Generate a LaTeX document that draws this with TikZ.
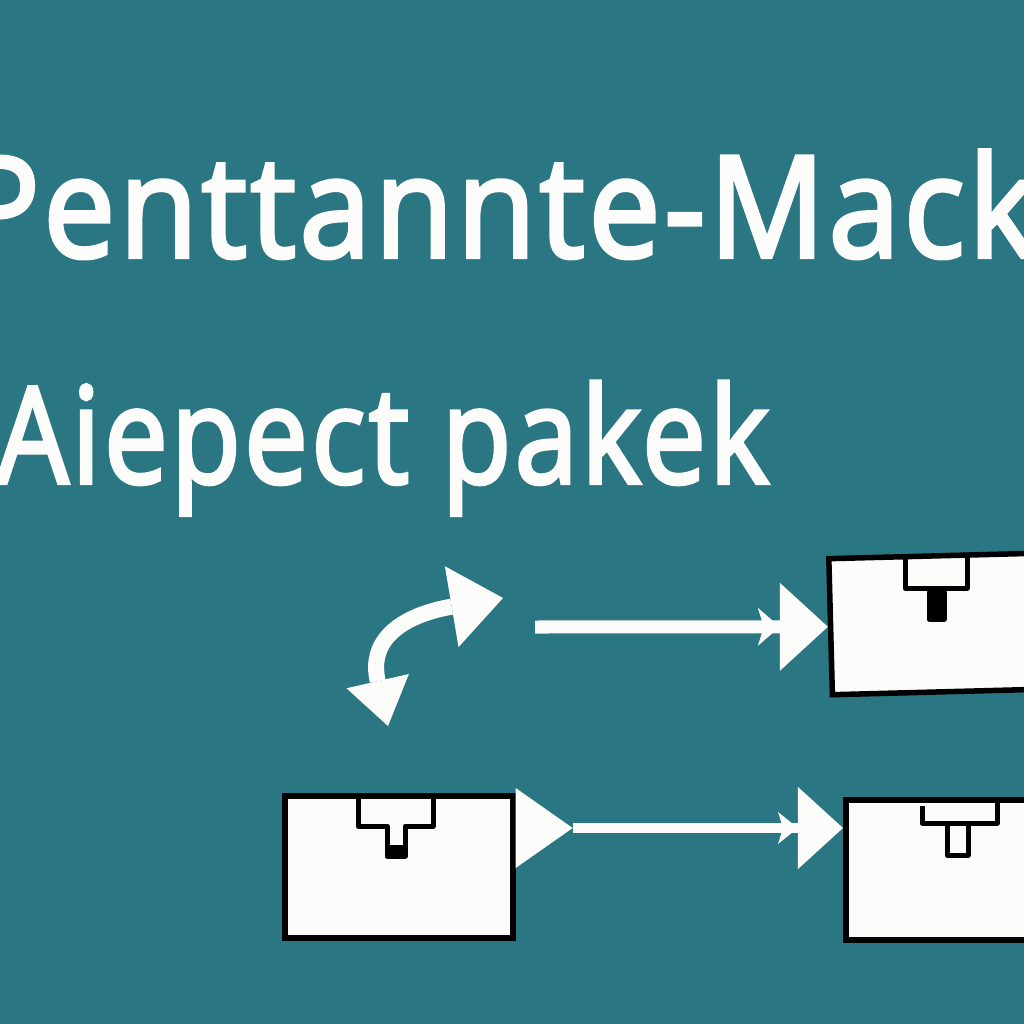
\documentclass[tikz,border=0pt]{standalone}
\usepackage{fontspec}
\setmainfont{Open Sans}
\newfontfamily\headfont[FakeBold=3,LetterSpace=3]{Open Sans}
\usetikzlibrary{arrows.meta,calc}
\definecolor{teal}{RGB}{42,118,131}
\definecolor{paper}{RGB}{252,252,250}

\begin{document}
\begin{tikzpicture}[x=0.01cm,y=-0.01cm,
    box/.style={draw=black, line width=0.055cm, fill=paper, inner sep=0pt, anchor=north west},
    tee/.style={draw=black, line width=0.05cm, line join=round},
    title/.style={text=paper, inner sep=0pt, anchor=base west}]

    \fill[teal] (0,0) rectangle (1024,1024);
    \useasboundingbox (0,0) rectangle (1024,1024);

    % titles
    \node[title, xscale=0.91, font=\fontsize{40}{44}\headfont] (t1) at (-38,257) {Penttannte-Mack};
    \node[title, xscale=0.85, font=\fontsize{38}{42}\headfont] (t2) at (-4,483) {Aiepect pakek};

    % boxes
    \node[box, minimum width=2.28cm, minimum height=1.42cm] (b1) at (282,793) {};
    \node[box, minimum width=2.1cm, minimum height=1.36cm, rotate=1.5] (b2) at (826,556) {};
    \node[box, minimum width=2.0cm, minimum height=1.4cm] (b3) at (843,797) {};

    % tee marks
    \draw[tee] (905,556) -- (905,588) -- (967,588) -- (967,555);
    \draw[tee, fill=black] (929,592) rectangle (944,619);
    \draw[tee] (358,795) -- (358,826) -- (387,826) -- (387,856) -- (405,856) -- (405,826) -- (433,826) -- (433,795);
    \fill[black] (387,845) rectangle (405,858);
    \draw[tee] (922,806) -- (922,823) -- (947,823) -- (947,855) -- (968,855) -- (968,823) -- (997,823) -- (997,800);
    \draw[tee] (947,823) -- (968,823);

    % arrows
    \coordinate (c1) at (388,726);
    \coordinate (c2) at (503,598);
    \draw[paper, line width=0.16cm, {Triangle[length=0.46cm,width=0.64cm,line width=0pt]}-{Triangle[length=0.52cm,width=0.82cm,line width=0pt]}]
        (c1) .. controls (366,630) and (420,612) .. (c2);

    \coordinate (s1) at (535,627);
    \draw[paper, line width=0.13cm, -{Stealth[length=0.22cm,width=0.38cm,inset=0.06cm,line width=0pt] Triangle[length=0.48cm,width=0.88cm,line width=0pt]}]
        (s1) -- (b2.west);

    \coordinate (o1) at ($(b1.north east)+(0,35)$);
    \coordinate (i3) at ($(b3.north west)+(0,31)$);
    \draw[paper, line width=0.1cm, {Triangle[reversed,length=0.57cm,width=0.8cm,line width=0pt]}-{Stealth[length=0.2cm,width=0.32cm,inset=0.05cm,line width=0pt] Triangle[length=0.45cm,width=0.82cm,line width=0pt]}]
        (o1) -- (i3);

\end{tikzpicture}
\end{document}
